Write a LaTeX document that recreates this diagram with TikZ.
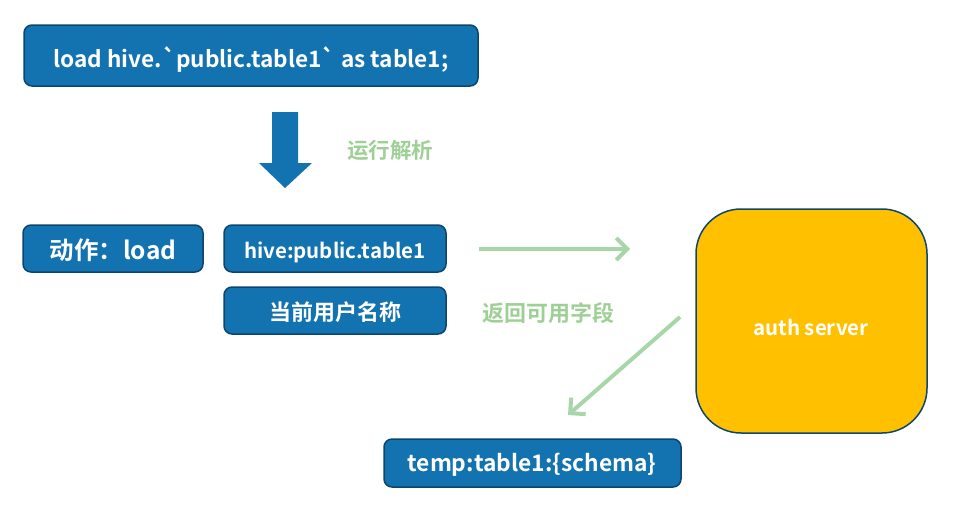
\documentclass[tikz,border=0pt]{standalone}
\usepackage{fontspec}
\setmainfont{Noto Sans CJK SC}[BoldFont={Noto Sans CJK SC Bold}]
\usetikzlibrary{arrows.meta}
\newcommand\grv{\XeTeXglyph\the\XeTeXcharglyph"60\relax}
\definecolor{boxblue}{RGB}{19,114,176}
\definecolor{boxedge}{RGB}{12,70,110}
\definecolor{lgreen}{RGB}{168,214,168}
\definecolor{tgreen}{RGB}{158,208,150}
\definecolor{gold}{RGB}{255,192,0}
\tikzset{
  bluebox/.style={draw=boxedge, line width=1.5pt, fill=boxblue, rounded corners=8pt, text=white, font=\bfseries},
  garrow/.style={draw=lgreen, line width=4pt, -{Straight Barb[length=11pt,width=22pt,line width=4pt]}},
  glabel/.style={text=tgreen, font=\bfseries\fontsize{21.5}{25}\selectfont}
}
\begin{document}
\begin{tikzpicture}[x=1pt,y=-1pt]
\useasboundingbox (0,0) rectangle (957,515);
% top box
\draw[bluebox] (24,25) rectangle (478,86);
\node[text=white, font=\bfseries\fontsize{22.6}{27}\selectfont] (top) at (251,59) {load hive.\grv public.table1\grv\ as table1;};
% big arrow
\fill[boxblue] (272,112) -- (298,112) -- (298,163) -- (312,163) -- (285,188) -- (259,163) -- (272,163) -- cycle;
\node[glabel] (parse) at (390,150) {运行解析};
% middle boxes
\draw[bluebox] (23,225) rectangle (203,272);
\node[text=white, font=\bfseries\fontsize{24.5}{28}\selectfont] (act) at (113,250) {动作：load};
\draw[bluebox] (224,225) rectangle (446,272);
\node[text=white, font=\bfseries\fontsize{20.5}{24}\selectfont] (hive) at (335,252) {hive:public.table1};
\draw[bluebox] (224,287) rectangle (446,334);
\node[text=white, font=\bfseries\fontsize{22}{26}\selectfont] (user) at (335,312) {当前用户名称};
% auth server
\draw[draw=boxedge, line width=1.5pt, fill=gold, rounded corners=45pt] (696,209) rectangle (927,433);
\node[text=white, font=\bfseries\fontsize{20.5}{24}\selectfont] (auth) at (811,327) {auth server};
% bottom box
\draw[bluebox] (384,439) rectangle (681,487);
\node[text=white, font=\bfseries\fontsize{22.8}{26}\selectfont] (temp) at (532,465) {temp:table1:\{schema\}};
% green arrows
\coordinate (a1s) at (479,249);
\coordinate (a1e) at (630,249);
\draw[garrow] (a1s) -- (a1e);
\node[glabel, font=\bfseries\fontsize{22}{26}\selectfont] (ret) at (548,313) {返回可用字段};
\coordinate (a2s) at (680,317);
\coordinate (a2e) at (568,415);
\draw[garrow] (a2s) -- (a2e);
\end{tikzpicture}
\end{document}
